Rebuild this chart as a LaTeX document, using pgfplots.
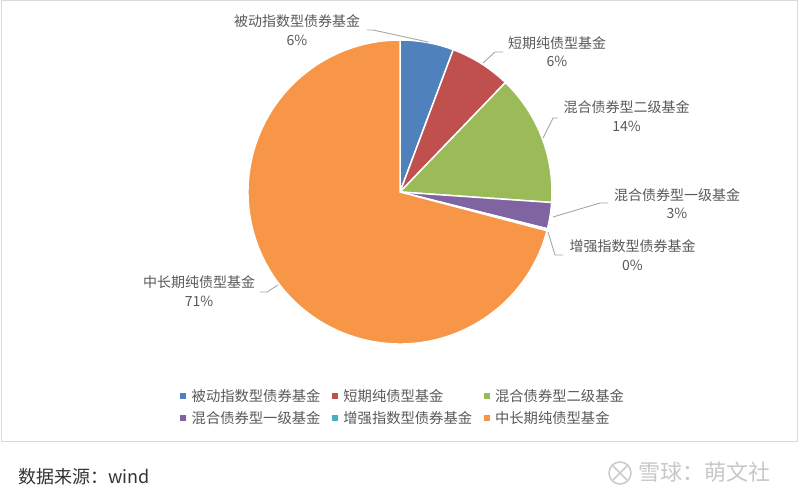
\documentclass[border=0pt]{standalone}
\usepackage{pgfplots}
\pgfplotsset{compat=1.18}
\usepackage{fontspec}
\setmainfont{Noto Sans CJK SC}
\definecolor{cBlue}{HTML}{4F81BD}
\definecolor{cRed}{HTML}{C0504D}
\definecolor{cGreen}{HTML}{9BBB59}
\definecolor{cPurple}{HTML}{8064A2}
\definecolor{cTeal}{HTML}{4BACC6}
\definecolor{cOrange}{HTML}{F79646}
\definecolor{labgray}{HTML}{595959}
\definecolor{leadgray}{HTML}{A6A6A6}
\definecolor{framegray}{HTML}{D9D9D9}
\newcommand\lab{\fontsize{14bp}{18.5bp}\selectfont}
\newcommand\leg{\fontsize{14.3bp}{17bp}\selectfont}
% shares in percent
\def\vA{5.7}\def\vB{6.5}\def\vC{13.9}\def\vD{2.8}\def\vE{0.2}\def\vF{70.9}
\begin{document}
\begin{tikzpicture}
\pgfmathsetmacro\aA{90}
\pgfmathsetmacro\aB{\aA-3.6*\vA}
\pgfmathsetmacro\aC{\aB-3.6*\vB}
\pgfmathsetmacro\aD{\aC-3.6*\vC}
\pgfmathsetmacro\aE{\aD-3.6*\vD}
\pgfmathsetmacro\aF{\aE-3.6*\vE}
\pgfmathsetmacro\aG{\aF-3.6*\vF}
\foreach \n in {A,B,C,D,E,F}{%
  \pgfmathsetmacro\tmpx{152*cos(\csname a\n\endcsname)}%
  \pgfmathsetmacro\tmpy{116+152*sin(\csname a\n\endcsname)}%
  \global\expandafter\let\csname x\n\endcsname\tmpx
  \global\expandafter\let\csname y\n\endcsname\tmpy
}
\begin{axis}[
  x=1bp, y=1bp,
  xmin=-400, xmax=400, ymin=-192, ymax=308,
  hide axis, clip=false,
  anchor=south west, at={(0,0)},
  legend columns=3,
  legend cell align=left,
  legend image code/.code={\fill[#1, draw=none] (0bp,-3bp) rectangle (6bp,3bp);},
  legend style={
    at={(axis description cs:0.5035,0.186)}, anchor=center,
    draw=none, fill=none, font=\leg, text=labgray,
    row sep=5bp,
    nodes={inner sep=1.5bp},
    /tikz/every even column/.append style={column sep=10bp},
    /tikz/every odd column/.append style={column sep=4bp},
  },
]
\addplot[fill=cBlue, draw=white, line width=1.5bp] coordinates {(0,116) (\xA,\yA)} arc[start angle=\aA, end angle=\aB, radius=152bp] -- cycle;
\addlegendentry{被动指数型债券基金}
\addplot[fill=cRed, draw=white, line width=1.5bp] coordinates {(0,116) (\xB,\yB)} arc[start angle=\aB, end angle=\aC, radius=152bp] -- cycle;
\addlegendentry{短期纯债型基金}
\addplot[fill=cGreen, draw=white, line width=1.5bp] coordinates {(0,116) (\xC,\yC)} arc[start angle=\aC, end angle=\aD, radius=152bp] -- cycle;
\addlegendentry{混合债券型二级基金}
\addplot[fill=cPurple, draw=white, line width=1.5bp] coordinates {(0,116) (\xD,\yD)} arc[start angle=\aD, end angle=\aE, radius=152bp] -- cycle;
\addlegendentry{混合债券型一级基金}
\addplot[fill=cTeal, draw=white, line width=1.5bp] coordinates {(0,116) (\xE,\yE)} arc[start angle=\aE, end angle=\aF, radius=152bp] -- cycle;
\addlegendentry{增强指数型债券基金}
\addplot[fill=cOrange, draw=white, line width=1.5bp] coordinates {(0,116) (\xF,\yF)} arc[start angle=\aF, end angle=\aG, radius=152bp] -- cycle;
\addlegendentry{中长期纯债型基金}

% leader lines
\addplot[leadgray, line width=0.9bp, forget plot] coordinates {(-33,278) (-27,278) (28,266)};
\addplot[leadgray, line width=0.9bp, forget plot] coordinates {(103,256) (95,256) (83,245)};
\addplot[leadgray, line width=0.9bp, forget plot] coordinates {(158,190) (153,190) (143,170)};
\addplot[leadgray, line width=0.9bp, forget plot] coordinates {(208,105) (200,105) (153,91)};
\addplot[leadgray, line width=0.9bp, forget plot] coordinates {(148,76) (155,53) (163,53)};
\addplot[leadgray, line width=0.9bp, forget plot] coordinates {(-140,16) (-133,16) (-122,23)};

% data labels
\node[font=\lab, text=labgray, align=center] at (axis cs:-103,278) {被动指数型债券基金\\6\%};
\node[font=\lab, text=labgray, align=center] at (axis cs:157,256.5) {短期纯债型基金\\6\%};
\node[font=\lab, text=labgray, align=center] at (axis cs:226.5,192) {混合债券型二级基金\\14\%};
\node[font=\lab, text=labgray, align=center] at (axis cs:277,104.5) {混合债券型一级基金\\3\%};
\node[font=\lab, text=labgray, align=center] at (axis cs:232.5,53) {增强指数型债券基金\\0\%};
\node[font=\lab, text=labgray, align=center] at (axis cs:-201,17) {中长期纯债型基金\\71\%};

% frame
\draw[framegray, line width=1bp] (axis cs:-399,307) rectangle (axis cs:397,-134);

% footer
\node[anchor=west, font=\fontsize{18bp}{21bp}\selectfont, text=black!80, inner sep=0pt] at (axis cs:-382,-169) {数据来源：wind};
\draw[black!20, line width=1.6bp] (axis cs:220,-165) circle[radius=11bp];
\draw[black!20, line width=1.6bp] (axis cs:213,-158) -- (axis cs:227,-172) (axis cs:227,-158) -- (axis cs:213,-172);
\node[anchor=west, font=\fontsize{22bp}{24bp}\selectfont, text=black!22, inner sep=0pt] at (axis cs:238,-164) {雪球：萌文社};

\path (axis cs:-400,-192) rectangle (axis cs:400,308);
\end{axis}
\end{tikzpicture}
\end{document}
